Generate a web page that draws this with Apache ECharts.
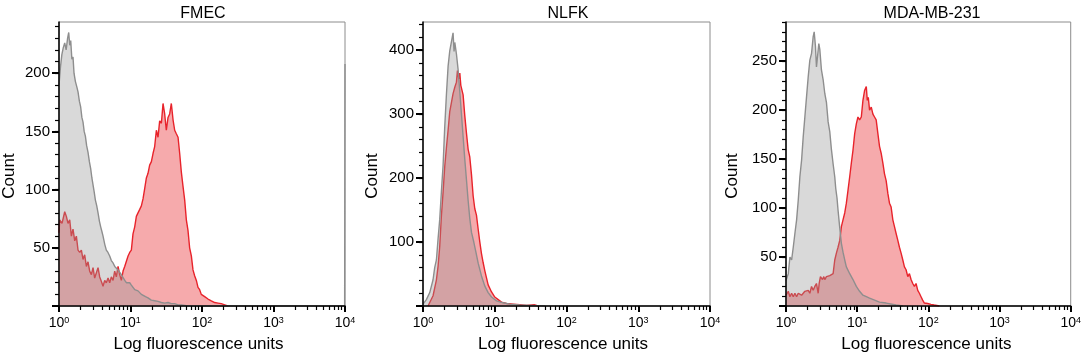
<!DOCTYPE html>
<html><head><meta charset="utf-8">
<script src="https://cdn.jsdelivr.net/npm/echarts@6/dist/echarts.min.js"></script>
<style>html,body{margin:0;padding:0;background:#fff}#c{width:1084px;height:358px}</style>
</head><body><div id="c"></div>
<script>
// ---- data (x = log10 fluorescence, y = count) ----
const panelTitles = ['FMEC', 'NLFK', 'MDA-MB-231'];
const xTickExponents = [0, 1, 2, 3, 4];
const yLabelValues = [[50, 100, 150, 200], [100, 200, 300, 400], [50, 100, 150, 200, 250]];
const yMinorStep = [10, 20, 10];
const yMax = [244, 444, 290];

const fmecControl = [[0,190],[0.02,205],[0.04,216],[0.06,222],[0.08,226],[0.10,220],[0.12,230],[0.136,235],[0.15,224],[0.164,228],[0.18,212],[0.196,214],[0.21,200],[0.229,193],[0.25,188],[0.266,184],[0.285,176],[0.303,171],[0.32,162],[0.336,158],[0.352,150],[0.369,146],[0.386,138],[0.406,132],[0.425,124],[0.443,118],[0.46,110],[0.476,104],[0.492,98],[0.509,91],[0.528,86],[0.546,80],[0.565,73],[0.583,68],[0.60,64],[0.616,60],[0.64,53],[0.662,48],[0.685,46],[0.709,43],[0.732,39],[0.756,37],[0.78,34],[0.802,33],[0.826,31],[0.849,30],[0.872,27],[0.896,24.5],[0.92,22],[0.942,20],[0.966,21],[0.989,20],[1.012,18],[1.035,17],[1.059,14],[1.082,14],[1.105,13],[1.129,12],[1.152,10],[1.175,9],[1.21,8],[1.245,7],[1.29,5],[1.338,4.5],[1.385,4],[1.432,3],[1.478,2.5],[1.525,3],[1.57,2],[1.618,2],[1.665,1],[1.711,1],[1.76,0.5],[1.8,0],[3.995,0],[4.0,208]];
const fmecStained = [[0,63],[0.01,74],[0.042,71],[0.08,81],[0.103,77],[0.126,71],[0.15,74],[0.173,60],[0.196,66],[0.22,56],[0.243,60],[0.266,48],[0.29,46],[0.313,48],[0.336,40],[0.359,44],[0.383,34],[0.406,38],[0.429,30],[0.453,27],[0.476,33],[0.499,24],[0.523,25],[0.546,33],[0.569,25],[0.593,21],[0.616,17],[0.639,22],[0.662,20],[0.686,24],[0.709,20],[0.732,25],[0.756,22],[0.779,30],[0.802,25],[0.826,34],[0.849,27],[0.872,22],[0.896,30],[0.919,34],[0.942,33],[0.966,43],[0.989,46],[1.012,48],[1.035,62],[1.059,68],[1.082,77],[1.105,80],[1.129,83],[1.152,86],[1.175,92],[1.199,101],[1.222,110],[1.245,114],[1.268,121],[1.292,124],[1.315,131],[1.338,137],[1.362,151],[1.385,145],[1.408,159],[1.432,157],[1.455,174],[1.478,165],[1.501,151],[1.525,162],[1.548,165],[1.571,174],[1.595,160],[1.618,151],[1.641,148],[1.665,145],[1.688,131],[1.711,115],[1.734,103],[1.758,91],[1.781,74],[1.804,65],[1.827,50],[1.851,43],[1.874,31],[1.897,26],[1.921,22],[1.944,16],[1.967,14],[1.99,10],[2.037,8],[2.084,6],[2.13,4.5],[2.177,3],[2.224,2.5],[2.27,2],[2.317,1],[2.36,0]];

const nlfkControl = [[0,3],[0.047,10],[0.094,21],[0.14,41],[0.163,60],[0.187,72],[0.21,105],[0.233,135],[0.256,178],[0.28,220],[0.303,280],[0.326,330],[0.35,375],[0.373,399],[0.396,413],[0.419,427],[0.433,398],[0.443,412],[0.452,405],[0.466,394],[0.489,370],[0.513,335],[0.536,300],[0.559,265],[0.582,230],[0.606,197],[0.629,165],[0.652,137],[0.676,115],[0.69,112],[0.708,100],[0.736,85],[0.769,67],[0.815,47],[0.862,31],[0.908,21],[0.955,14],[1.025,8],[1.118,5],[1.211,3],[1.35,1.5],[1.5,1],[1.7,0]];
const nlfkStained = [[0.07,0],[0.094,3],[0.14,16],[0.187,41],[0.21,62],[0.233,93],[0.256,140],[0.28,178],[0.303,218],[0.326,247],[0.35,275],[0.373,304],[0.396,318],[0.419,332],[0.443,342],[0.466,350],[0.48,368],[0.499,355],[0.513,364],[0.527,345],[0.541,347],[0.559,330],[0.582,298],[0.606,270],[0.629,245],[0.652,233],[0.676,205],[0.699,172],[0.722,152],[0.745,142],[0.769,120],[0.792,100],[0.815,82],[0.838,68],[0.862,55],[0.885,44],[0.908,33],[0.931,36],[0.955,22],[1.001,14],[1.048,10],[1.094,6],[1.164,4],[1.257,3],[1.35,2],[1.443,1],[1.55,2],[1.6,0]];

const mdaControl = [[0,26],[0.032,33],[0.055,50],[0.079,47],[0.102,60],[0.125,74],[0.149,88],[0.172,108],[0.195,132],[0.219,149],[0.242,173],[0.265,193],[0.289,214],[0.312,234],[0.335,251],[0.359,258],[0.382,275],[0.396,280],[0.414,265],[0.428,244],[0.442,254],[0.461,268],[0.475,262],[0.498,241],[0.522,231],[0.545,217],[0.568,208],[0.592,188],[0.615,178],[0.638,160],[0.662,145],[0.685,132],[0.699,120],[0.717,110],[0.731,98],[0.755,80],[0.778,64],[0.801,55],[0.825,47],[0.848,40],[0.871,38],[0.895,33],[0.941,27],[0.988,20],[1.034,15],[1.081,11],[1.128,9.5],[1.174,8],[1.244,6],[1.314,4],[1.407,3],[1.547,1],[1.641,0]];
const mdaStained = [[0,11],[0.032,15],[0.055,9.5],[0.079,13],[0.102,9.5],[0.125,13],[0.149,9.5],[0.172,13],[0.195,15],[0.219,11],[0.242,11],[0.265,15],[0.289,13],[0.312,16],[0.335,13],[0.359,20],[0.382,16],[0.405,20],[0.428,23],[0.452,13],[0.466,23],[0.484,30],[0.513,27],[0.531,30],[0.545,27],[0.568,30],[0.592,31],[0.615,31],[0.638,33],[0.662,33],[0.685,47],[0.708,54],[0.731,60],[0.755,67],[0.778,81],[0.801,88],[0.825,95],[0.848,105],[0.871,118],[0.895,132],[0.918,146],[0.941,159],[0.965,176],[0.988,186],[1.011,193],[1.034,190],[1.058,193],[1.081,210],[1.104,220],[1.128,224],[1.142,210],[1.156,213],[1.174,200],[1.198,203],[1.221,196],[1.244,193],[1.267,190],[1.291,176],[1.314,163],[1.337,156],[1.361,146],[1.384,135],[1.407,128],[1.431,115],[1.454,105],[1.477,101],[1.501,88],[1.524,81],[1.547,74],[1.571,67],[1.594,60],[1.617,54],[1.641,47],[1.664,40],[1.687,37],[1.711,30],[1.734,33],[1.757,27],[1.781,23],[1.804,20],[1.827,23],[1.851,16],[1.874,13],[1.897,9.5],[1.92,6],[1.944,3],[1.99,2.5],[2.037,1.7],[2.083,1],[2.153,0]];

const controls = [fmecControl, nlfkControl, mdaControl];
const stains = [fmecStained, nlfkStained, mdaStained];

// ---- layout / style ----
const FONT = 'Liberation Sans, Arial, Helvetica, sans-serif';
const layout = [{left: 59, width: 286}, {left: 423, width: 287}, {left: 786, width: 286}];
const titleCenters = [198, 563, 927];
const nameGaps = [41, 42, 45];
const xNameShift = [7, 7, 4];

const minorLogTicks = [];
for (let d = 0; d < 4; d++) for (let m = 2; m <= 9; m++) minorLogTicks.push(d + Math.log10(m));

const grids = [], xAxes = [], yAxes = [], series = [], titles = [];
for (let i = 0; i < 3; i++) {
  grids.push({left: layout[i].left, width: layout[i].width, top: 22, height: 285, show: true,
    borderColor: '#8c8c8c', borderWidth: 1, backgroundColor: 'transparent'});
  titles.push({text: panelTitles[i], left: titleCenters[i], top: 1, textAlign: 'center',
    textStyle: {fontSize: 16, fontWeight: 'normal', color: '#000', fontFamily: FONT}});
  xAxes.push({gridIndex: i, type: 'value', min: 0, max: 4, interval: 1, position: 'bottom', z: 10,
    axisLine: {show: true, lineStyle: {color: '#000', width: 1.5}},
    axisTick: {show: true, inside: false, length: 6, lineStyle: {color: '#000', width: 2}},
    splitLine: {show: false},
    axisLabel: {margin: 10, formatter: v => '{b|10}{e|' + xTickExponents[v] + '}',
      rich: {b: {fontSize: 14, color: '#000', fontFamily: FONT},
             e: {fontSize: 9, color: '#000', fontFamily: FONT, verticalAlign: 'top'}}},
    name: 'Log fluorescence units', nameLocation: 'middle', nameGap: 30,
    nameTextStyle: {fontSize: 17, color: '#000', fontFamily: FONT, padding: [0, xNameShift[i], 0, 0]}});
  xAxes.push({gridIndex: i, type: 'value', min: 0, max: 4, position: 'bottom', z: 10,
    axisLine: {show: false}, axisLabel: {show: false}, splitLine: {show: false},
    axisTick: {show: true, inside: false, customValues: minorLogTicks, length: 4,
      lineStyle: {color: '#000', width: 1.2}}});
  const minors = [];
  for (let v = yMinorStep[i]; v <= yMax[i]; v += yMinorStep[i]) minors.push(v);
  yAxes.push({gridIndex: i, type: 'value', min: 0, max: yMax[i], position: 'left', z: 10,
    axisLine: {show: true, lineStyle: {color: '#000', width: 1.5}},
    axisTick: {show: true, inside: false, customValues: [0].concat(yLabelValues[i]), length: 7,
      lineStyle: {color: '#000', width: 2}},
    axisLabel: {customValues: yLabelValues[i], fontSize: 15, color: '#000', fontFamily: FONT, margin: 9},
    splitLine: {show: false},
    name: 'Count', nameLocation: 'middle', nameGap: nameGaps[i], nameRotate: 90,
    nameTextStyle: {fontSize: 17, color: '#000', fontFamily: FONT, padding: [0, 24, 0, 0]}});
  yAxes.push({gridIndex: i, type: 'value', min: 0, max: yMax[i], position: 'left', z: 10,
    axisLine: {show: false}, axisLabel: {show: false}, splitLine: {show: false},
    axisTick: {show: true, inside: false, customValues: minors, length: 4,
      lineStyle: {color: '#000', width: 1.2}}});
  series.push({type: 'line', name: panelTitles[i] + ' stained', xAxisIndex: 2 * i, yAxisIndex: 2 * i,
    data: stains[i], symbol: 'none', silent: true, z: 2,
    lineStyle: {color: '#e8232b', width: 1.4}, areaStyle: {color: '#f6aaac', opacity: 1}});
  series.push({type: 'line', name: panelTitles[i] + ' control', xAxisIndex: 2 * i, yAxisIndex: 2 * i,
    data: controls[i], symbol: 'none', silent: true, z: 3,
    lineStyle: {color: '#8e8e8e', width: 1.4}, areaStyle: {color: 'rgba(149,149,149,0.36)', opacity: 1}});
}

const chart = echarts.init(document.getElementById('c'), null, {renderer: 'canvas'});
chart.setOption({
  animation: false,
  backgroundColor: '#fff',
  textStyle: {fontFamily: FONT},
  title: titles, grid: grids, xAxis: xAxes, yAxis: yAxes, series: series
});
</script></body></html>
